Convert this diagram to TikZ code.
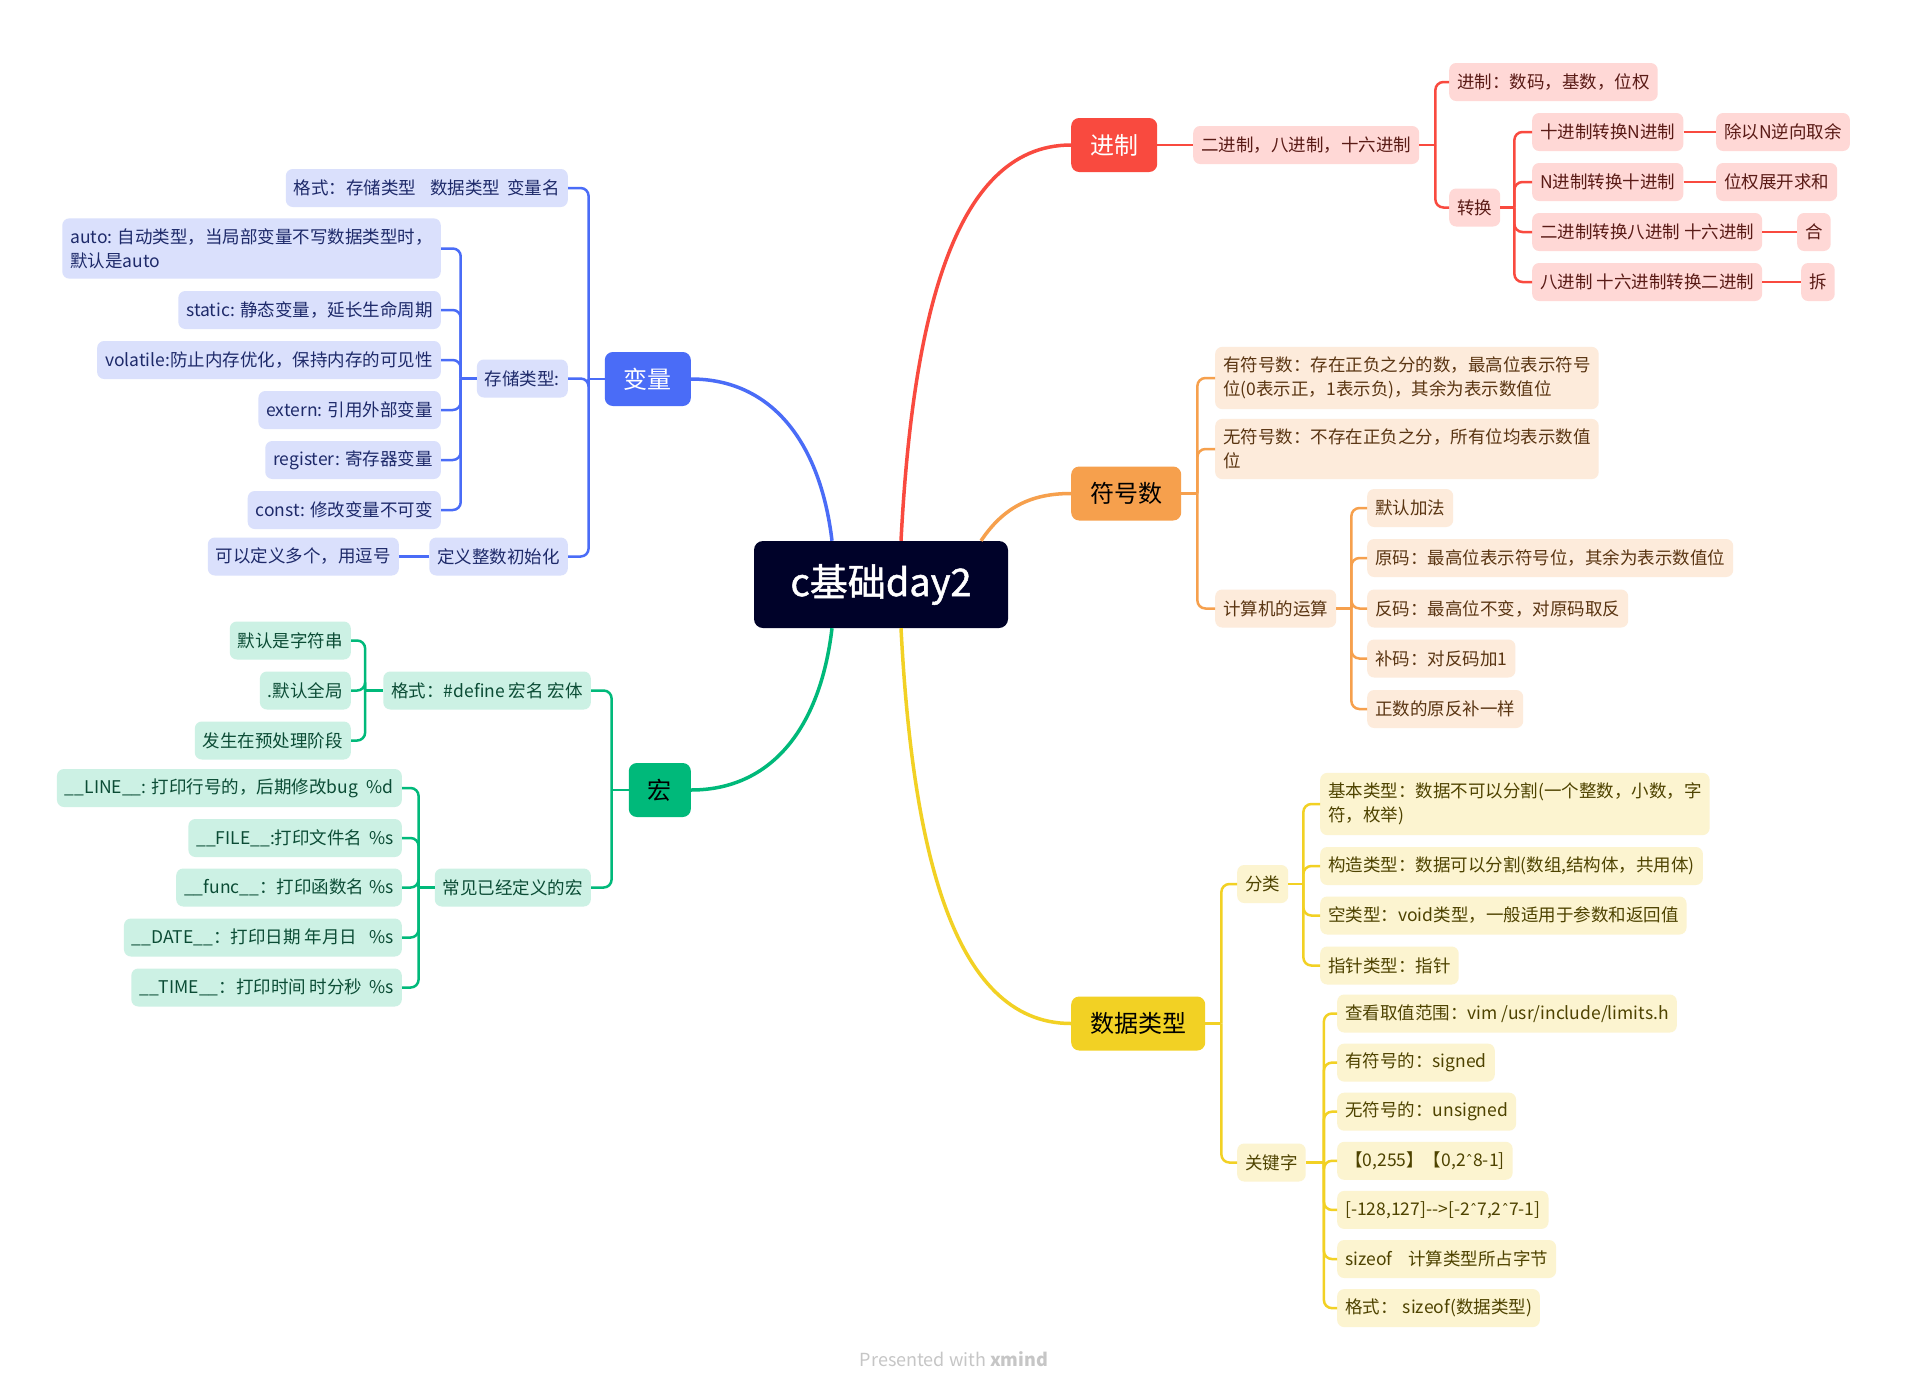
\documentclass[tikz,border=0pt]{standalone}
\usepackage{fontspec}
\newfontfamily\cjk{Noto Sans CJK SC}
\newfontfamily\cjkmed[FakeBold=1.2]{Noto Sans CJK SC}
\newfontfamily\djv{DejaVu Sans}
\newcommand{\crt}{{\djv\fontsize{15}{20}\selectfont ˆ}}
\usetikzlibrary{calc}
\definecolor{cenc}{HTML}{000229}
\definecolor{rline}{HTML}{F94A3F}
\definecolor{rfill}{HTML}{FFD8D6}
\definecolor{rtxt}{HTML}{5A1B16}
\definecolor{oline}{HTML}{F6A04D}
\definecolor{ofill}{HTML}{FDEBDB}
\definecolor{otxt}{HTML}{5A3512}
\definecolor{yline}{HTML}{F2D124}
\definecolor{yfill}{HTML}{FCF4D0}
\definecolor{ytxt}{HTML}{4E4300}
\definecolor{bline}{HTML}{4A6CF7}
\definecolor{bfill}{HTML}{DAE0FC}
\definecolor{btxt}{HTML}{1E2A6A}
\definecolor{gline}{HTML}{00B97A}
\definecolor{gfill}{HTML}{CCF1E4}
\definecolor{gtxt}{HTML}{0B4C35}
\definecolor{pwc}{HTML}{C6C6C6}
\tikzset{
  leafbase/.style={rounded corners=7pt, inner xsep=8pt, inner ysep=0pt, minimum height=38pt,
    font=\cjk\fontsize{17.5}{24}\selectfont, align=left},
  twoline/.style={inner ysep=10pt},
  rleaf/.style={leafbase, fill=rfill, text=rtxt},
  oleaf/.style={leafbase, fill=ofill, text=otxt},
  yleaf/.style={leafbase, fill=yfill, text=ytxt},
  bleaf/.style={leafbase, fill=bfill, text=btxt},
  gleaf/.style={leafbase, fill=gfill, text=gtxt},
  topicbase/.style={rounded corners=8pt, inner xsep=19pt, inner ysep=0pt, minimum height=54pt,
    font=\cjk\fontsize{24}{28}\selectfont},
  rlink/.style={draw=rline, line width=2.5pt},
  olink/.style={draw=oline, line width=2.5pt},
  ylink/.style={draw=yline, line width=2.5pt},
  blink/.style={draw=bline, line width=2.5pt},
  glink/.style={draw=gline, line width=2.5pt},
  elbow/.style={rounded corners=8pt},
  mainlink/.style={line width=3.5pt},
}
\begin{document}
\begin{tikzpicture}[x=1pt,y=-1pt]
\useasboundingbox (0,0) rectangle (1911,1392);
\fill[white] (0,0) rectangle (1911,1392);

% central
\node[fill=cenc, text=white, rounded corners=9pt, minimum width=254pt, minimum height=87pt,
  inner sep=0pt, font=\cjkmed\fontsize{38}{44}\selectfont] (c) at (881,584.5) {c基础day2};

% main topics
\node[topicbase, fill=rline, text=white, anchor=west] (jz) at (1071,145) {进制};
\node[topicbase, fill=oline, text=black, anchor=west] (fh) at (1071,493.5) {符号数};
\node[topicbase, fill=yline, text=black, anchor=west] (sj) at (1071,1023.5) {数据类型};
\node[topicbase, fill=bline, text=white, anchor=east] (bl) at (691,379) {变量};
\node[topicbase, fill=gline, text=black, anchor=east] (hg) at (691,790) {宏};

% main curves
\draw[rline, mainlink] ($(c.north)+(20,0)$) .. controls (912,330) and (950,145) .. (jz.west);
\draw[oline, mainlink] ($(c.north)+(100,0)$) .. controls (1003,508) and (1030,493.5) .. (fh.west);
\draw[yline, mainlink] ($(c.south)+(20,0)$) .. controls (912,840) and (950,1023.5) .. (sj.west);
\draw[bline, mainlink] ($(c.north)+(-49,0)$) .. controls (820,440) and (770,379) .. (bl.east);
\draw[gline, mainlink] ($(c.south)+(-49,0)$) .. controls (820,730) and (770,790) .. (hg.east);

% ---------------- red ----------------
\node[rleaf, anchor=west] (b2) at (1193,145) {二进制，八进制，十六进制};
\node[rleaf, anchor=west] (b2a) at (1449,82) {进制：数码，基数，位权};
\node[rleaf, anchor=west] (zh) at (1449,207.5) {转换};
\node[rleaf, anchor=west] (z1) at (1532,132) {十进制转换N进制};
\node[rleaf, anchor=west] (z2) at (1532,182) {N进制转换十进制};
\node[rleaf, anchor=west] (z3) at (1532,232) {二进制转换八进制 十六进制};
\node[rleaf, anchor=west] (z4) at (1532,282) {八进制 十六进制转换二进制};
\node[rleaf, anchor=west] (z1r) at (1716,132) {除以N逆向取余};
\node[rleaf, anchor=west] (z2r) at (1716,182) {位权展开求和};
\node[rleaf, anchor=west] (z3r) at (1797,232) {合};
\node[rleaf, anchor=west] (z4r) at (1801,282) {拆};
\draw[rlink] (jz.east) -- (b2.west);
\draw[rlink] (b2.east) -- ++(16,0);
\foreach \n in {b2a,zh} \draw[rlink, elbow] ($(b2.east)+(16,0)$) |- (\n.west);
\draw[rlink] (zh.east) -- ++(14,0);
\foreach \n in {z1,z2,z3,z4} \draw[rlink, elbow] ($(zh.east)+(14,0)$) |- (\n.west);
\draw[rlink] (z1.east) -- (z1r.west);
\draw[rlink] (z2.east) -- (z2r.west);
\draw[rlink] (z3.east) -- (z3r.west);
\draw[rlink] (z4.east) -- (z4r.west);

% ---------------- orange ----------------
\node[oleaf, twoline, anchor=west] (o1) at (1215,378) {有符号数：存在正负之分的数，最高位表示符号\\位(0表示正，1表示负)，其余为表示数值位};
\node[oleaf, twoline, anchor=west] (o2) at (1215,449) {无符号数：不存在正负之分，所有位均表示数值\\位};
\node[oleaf, anchor=west] (o3) at (1215,608.5) {计算机的运算};
\node[oleaf, anchor=west] (o31) at (1367,508) {默认加法};
\node[oleaf, anchor=west] (o32) at (1367,558) {原码：最高位表示符号位，其余为表示数值位};
\node[oleaf, anchor=west] (o33) at (1367,608.5) {反码：最高位不变，对原码取反};
\node[oleaf, anchor=west] (o34) at (1367,658.5) {补码：对反码加1};
\node[oleaf, anchor=west] (o35) at (1367,709) {正数的原反补一样};
\draw[olink] (fh.east) -- ++(16,0);
\foreach \n in {o1,o2,o3} \draw[olink, elbow] ($(fh.east)+(16,0)$) |- (\n.west);
\draw[olink] (o3.east) -- ++(15,0);
\foreach \n in {o31,o32,o33,o34,o35} \draw[olink, elbow] ($(o3.east)+(15,0)$) |- (\n.west);

% ---------------- yellow ----------------
\node[yleaf, anchor=west] (fl) at (1237,884) {分类};
\node[yleaf, twoline, anchor=west] (y1) at (1320,804) {基本类型：数据不可以分割(一个整数，小数，字\\符，枚举)};
\node[yleaf, anchor=west] (y2) at (1320,866) {构造类型：数据可以分割(数组,结构体，共用体)};
\node[yleaf, anchor=west] (y3) at (1320,915.5) {空类型：void类型，一般适用于参数和返回值};
\node[yleaf, anchor=west] (y4) at (1320,965.5) {指针类型：指针};
\node[yleaf, anchor=west] (gj) at (1237,1162.5) {关键字};
\node[yleaf, anchor=west] (k1) at (1337,1013.5) {查看取值范围：vim /usr/include/limits.h};
\node[yleaf, anchor=west] (k2) at (1337,1062.6) {有符号的：signed};
\node[yleaf, anchor=west] (k3) at (1337,1111.7) {无符号的：unsigned};
\node[yleaf, anchor=west] (k4) at (1337,1160.8) {【0,255】【0,2\crt8-1]};
\node[yleaf, anchor=west] (k5) at (1337,1209.9) {[-128,127]-{}->[-2\crt7,2\crt7-1]};
\node[yleaf, anchor=west] (k6) at (1337,1259) {sizeof\hspace{0.9em}计算类型所占字节};
\node[yleaf, anchor=west] (k7) at (1337,1308.1) {格式：\hspace{0.3em}sizeof(数据类型)};
\draw[ylink] (sj.east) -- ++(16,0);
\foreach \n in {fl,gj} \draw[ylink, elbow] ($(sj.east)+(16,0)$) |- (\n.west);
\draw[ylink] (fl.east) -- ++(15,0);
\foreach \n in {y1,y2,y3,y4} \draw[ylink, elbow] ($(fl.east)+(15,0)$) |- (\n.west);
\draw[ylink] (gj.east) -- ++(18,0);
\foreach \n in {k1,k2,k3,k4,k5,k6,k7} \draw[ylink, elbow] ($(gj.east)+(18,0)$) |- (\n.west);

% ---------------- blue ----------------
\node[bleaf, anchor=east] (v1) at (568,188) {格式：存储类型\hspace{0.8em}数据类型\hspace{0.4em}变量名};
\node[bleaf, anchor=east] (v2) at (568,378.5) {存储类型:};
\node[bleaf, anchor=east] (v3) at (568,556.5) {定义整数初始化};
\node[bleaf, anchor=east] (v3a) at (399,556.5) {可以定义多个，用逗号};
\node[bleaf, twoline, anchor=east] (v21) at (441,248.5) {auto: 自动类型，当局部变量不写数据类型时，\\默认是auto};
\node[bleaf, anchor=east] (v22) at (441,310) {static: 静态变量，延长生命周期};
\node[bleaf, anchor=east] (v23) at (441,360) {volatile:防止内存优化，保持内存的可见性};
\node[bleaf, anchor=east] (v24) at (441,410) {extern: 引用外部变量};
\node[bleaf, anchor=east] (v25) at (441,460) {register: 寄存器变量};
\node[bleaf, anchor=east] (v26) at (441,510) {const: 修改变量不可变};
\draw[blink] (bl.west) -- ++(-16,0);
\foreach \n in {v1,v2,v3} \draw[blink, elbow] ($(bl.west)+(-16,0)$) |- (\n.east);
\draw[blink] (v2.west) -- ++(-16,0);
\foreach \n in {v21,v22,v23,v24,v25,v26} \draw[blink, elbow] ($(v2.west)+(-16,0)$) |- (\n.east);
\draw[blink] (v3.west) -- (v3a.east);

% ---------------- green ----------------
\node[gleaf, anchor=east] (g1) at (591,690.5) {格式：\#define 宏名 宏体};
\node[gleaf, anchor=east] (g11) at (351,640.5) {默认是字符串};
\node[gleaf, anchor=east] (g12) at (351,690.5) {.默认全局};
\node[gleaf, anchor=east] (g13) at (351,740.5) {发生在预处理阶段};
\node[gleaf, anchor=east] (g2) at (591,887.5) {常见已经定义的宏};
\node[gleaf, anchor=east] (g21) at (402,788) {\_\_LINE\_\_: 打印行号的，后期修改bug\hspace{0.5em}\%d};
\node[gleaf, anchor=east] (g22) at (402,838) {\_\_FILE\_\_:打印文件名\hspace{0.4em}\%s};
\node[gleaf, anchor=east] (g23) at (402,887.5) {\_\_func\_\_：打印函数名\hspace{0.3em}\%s};
\node[gleaf, anchor=east] (g24) at (402,937.5) {\_\_DATE\_\_：打印日期 年月日\hspace{0.7em}\%s};
\node[gleaf, anchor=east] (g25) at (402,987.5) {\_\_TIME\_\_：打印时间 时分秒\hspace{0.4em}\%s};
\draw[glink] (hg.west) -- ++(-17,0);
\foreach \n in {g1,g2} \draw[glink, elbow] ($(hg.west)+(-17,0)$) |- (\n.east);
\draw[glink] (g1.west) -- ++(-18,0);
\foreach \n in {g11,g12,g13} \draw[glink, elbow] ($(g1.west)+(-18,0)$) |- (\n.east);
\draw[glink] (g2.west) -- ++(-16,0);
\foreach \n in {g21,g22,g23,g24,g25} \draw[glink, elbow] ($(g2.west)+(-16,0)$) |- (\n.east);

% footer
\node[text=pwc, font=\cjk\fontsize{18}{22}\selectfont] (pw) at (954,1359) {Presented with \textbf{xmind}};
\end{tikzpicture}
\end{document}
